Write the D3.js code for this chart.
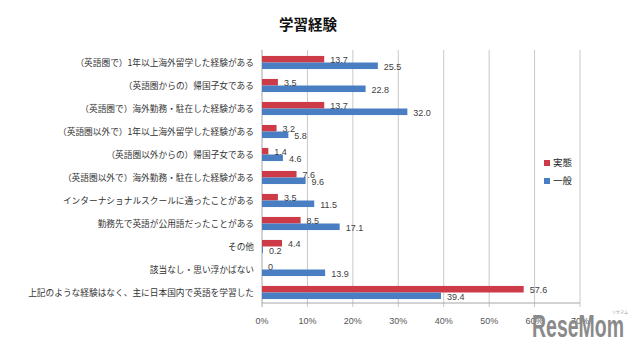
<!DOCTYPE html>
<html>
<head>
<meta charset="utf-8">
<script src="https://cdn.jsdelivr.net/npm/d3@7"></script>
<style>
  body { margin: 0; background: #fff; }
  svg { display: block; }
  .cat-label { font-family: "Noto Sans CJK JP", sans-serif; font-size: 8.7px; fill: #333; }
  .tick-label { font-family: "Liberation Sans", sans-serif; font-size: 9px; fill: #555; }
  .val-label { font-family: "Liberation Sans", sans-serif; font-size: 9px; fill: #404040; }
</style>
</head>
<body>
<div id="chart"></div>
<script>
// 学習経験 - 実態 vs 一般 (%)
const categories = [
  '（英語圏で）1年以上海外留学した経験がある',
  '（英語圏からの）帰国子女である',
  '（英語圏で）海外勤務・駐在した経験がある',
  '（英語圏以外で）1年以上海外留学した経験がある',
  '（英語圏以外からの）帰国子女である',
  '（英語圏以外で）海外勤務・駐在した経験がある',
  'インターナショナルスクールに通ったことがある',
  '勤務先で英語が公用語だったことがある',
  'その他',
  '該当なし・思い浮かばない',
  '上記のような経験はなく、主に日本国内で英語を学習した'
];
const seriesNames = ['実態', '一般'];
const actualValues = [13.7, 3.5, 13.7, 3.2, 1.4, 7.6, 3.5, 8.5, 4.4, 0, 57.6];
const generalValues = [25.5, 22.8, 32.0, 5.8, 4.6, 9.6, 11.5, 17.1, 0.2, 13.9, 39.4];
const xTicks = [0, 10, 20, 30, 40, 50, 60, 70];
const colors = ['#CD3A48', '#4A7EC2'];

const width = 640, height = 351;
const svg = d3.select('#chart').append('svg')
  .attr('width', width)
  .attr('height', height);

const plot = { left: 262, right: 580, top: 50, bottom: 303 };

const x = d3.scaleLinear().domain([0, 70]).range([plot.left, plot.right]);

const y = d3.scaleBand()
  .domain(categories)
  .range([plot.top + 1, plot.bottom + 1])
  .paddingInner(0.43)
  .paddingOuter(0.215);

const ySub = d3.scaleBand()
  .domain(seriesNames)
  .range([0, y.bandwidth()]);

// title
svg.append('text')
  .attr('x', 308)
  .attr('y', 30)
  .attr('text-anchor', 'middle')
  .style('font-family', '"Noto Sans CJK JP", sans-serif')
  .style('font-size', '14.5px')
  .style('font-weight', 'bold')
  .style('fill', '#111')
  .text('学習経験');

// gridlines + ticks
svg.append('g')
  .selectAll('line')
  .data(xTicks)
  .enter()
  .append('line')
  .attr('x1', d => x(d))
  .attr('x2', d => x(d))
  .attr('y1', plot.top)
  .attr('y2', plot.bottom + 4)
  .attr('stroke', d => d === 0 ? '#A6A6A6' : '#C8C8C8')
  .attr('stroke-width', 1);

svg.append('line')
  .attr('x1', x(0))
  .attr('x2', x(70))
  .attr('y1', plot.bottom)
  .attr('y2', plot.bottom)
  .attr('stroke', '#A6A6A6');

svg.append('g')
  .selectAll('text')
  .data(xTicks)
  .enter()
  .append('text')
  .attr('class', 'tick-label')
  .attr('x', d => x(d))
  .attr('y', 324)
  .attr('text-anchor', 'middle')
  .text(d => d + '%');

// category labels
svg.append('g')
  .selectAll('text')
  .data(categories)
  .enter()
  .append('text')
  .attr('class', 'cat-label')
  .attr('x', 254)
  .attr('y', d => y(d) + y.bandwidth() / 2)
  .attr('dy', '0.35em')
  .attr('text-anchor', 'end')
  .text(d => d);

// bars
const rows = categories.map((c, i) => ({
  category: c,
  values: [
    { series: seriesNames[0], value: actualValues[i] },
    { series: seriesNames[1], value: generalValues[i] }
  ]
}));

const group = svg.append('g')
  .selectAll('g')
  .data(rows)
  .enter()
  .append('g')
  .attr('transform', d => `translate(0,${y(d.category)})`);

group.selectAll('rect')
  .data(d => d.values)
  .enter()
  .append('rect')
  .attr('x', x(0))
  .attr('y', d => ySub(d.series))
  .attr('width', d => x(d.value) - x(0))
  .attr('height', ySub.bandwidth())
  .attr('fill', d => colors[seriesNames.indexOf(d.series)]);

group.selectAll('text')
  .data(d => d.values)
  .enter()
  .append('text')
  .attr('class', 'val-label')
  .attr('x', d => x(d.value) + 6)
  .attr('y', d => ySub(d.series) + ySub.bandwidth() / 2 + 1)
  .attr('dy', '0.35em')
  .text(d => d.value === 0 ? '0' : d.value.toFixed(1));

// legend
const legend = svg.append('g')
  .selectAll('g')
  .data(seriesNames)
  .enter()
  .append('g')
  .attr('transform', (d, i) => `translate(544,${163 + i * 18})`);

legend.append('rect')
  .attr('x', 0)
  .attr('y', -3)
  .attr('width', 6)
  .attr('height', 6)
  .attr('fill', (d, i) => colors[i]);

legend.append('text')
  .attr('x', 9)
  .attr('y', 0)
  .attr('dy', '0.35em')
  .style('font-family', '"Noto Sans CJK JP", sans-serif')
  .style('font-size', '9.5px')
  .style('fill', '#222')
  .text(d => d);

// watermark (overlaps the last tick labels, as in the source image)
svg.append('text')
  .attr('x', 532)
  .attr('y', 337)
  .attr('textLength', 92)
  .attr('lengthAdjust', 'spacingAndGlyphs')
  .style('font-family', '"Liberation Sans Narrow", "Liberation Sans", sans-serif')
  .style('font-size', '31px')
  .style('font-weight', 'bold')
  .style('fill', '#8a8a8a')
  .text('ReseMom');

svg.append('text')
  .attr('x', 620)
  .attr('y', 314)
  .attr('text-anchor', 'middle')
  .style('font-family', '"Noto Sans CJK JP", sans-serif')
  .style('font-size', '4px')
  .style('fill', '#999')
  .text('リセマム');
</script>
</body>
</html>
